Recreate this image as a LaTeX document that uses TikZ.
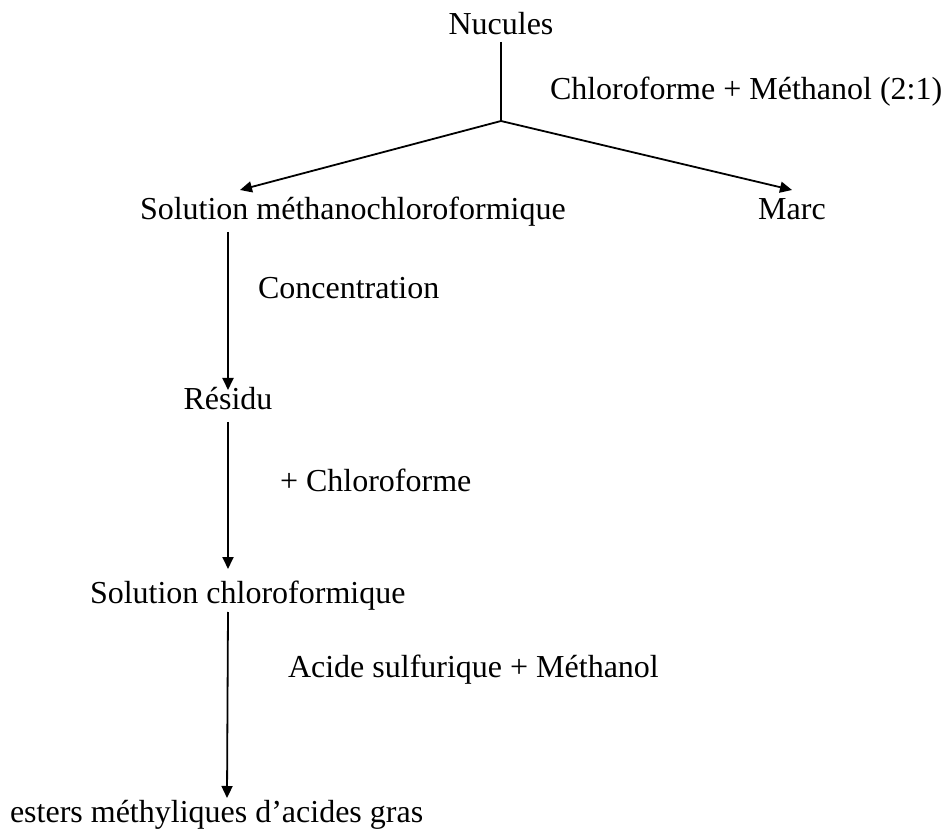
\documentclass[tikz,border=0pt]{standalone}
\usepackage{fontspec}
\setmainfont{Liberation Serif}
\usetikzlibrary{arrows.meta}
\begin{document}
\begin{tikzpicture}[x=1pt,y=-1pt,
  lbl/.style={inner sep=0pt,outer sep=0pt,font=\fontsize{32}{38}\selectfont},
  conn/.style={line width=1.8pt},
  arr/.style={conn,-{Triangle[length=12pt,width=11pt]}}]
\useasboundingbox[fill=white] (0,0) rectangle (946,834);
% nodes
\node[lbl,anchor=base] (nuc) at (501,35) {Nucules};
\node[lbl,anchor=base west] (cm) at (550,100) {Chloroforme + Méthanol (2:1)};
\node[lbl,anchor=base west] (smc) at (140,220) {Solution méthanochloroformique};
\node[lbl,anchor=base] (marc) at (792,220) {Marc};
\node[lbl,anchor=base west] (conc) at (258,299) {Concentration};
\node[lbl,anchor=base] (res) at (228,410) {Résidu};
\node[lbl,anchor=base west] (pc) at (280,492) {+ Chloroforme};
\node[lbl,anchor=base west] (sc) at (90,603) {Solution chloroformique};
\node[lbl,anchor=base west] (asm) at (288,677) {Acide sulfurique + Méthanol};
\node[lbl,anchor=base west] (est) at (10,822) {esters méthyliques d’acides gras};
% connector points
\coordinate (n0) at (501,42);
\coordinate (j) at (501,121);
\coordinate (tl) at (240,190);
\coordinate (tr) at (792,190);
\coordinate (v1a) at (228,232);
\coordinate (v1b) at (228,390);
\coordinate (v2a) at (228,422);
\coordinate (v2b) at (228,569);
\coordinate (v3a) at (228,612);
\coordinate (v3b) at (227,798);
% connectors
\draw[conn] (n0) -- (j);
\draw[arr] (j) -- (tl);
\draw[arr] (j) -- (tr);
\draw[arr] (v1a) -- (v1b);
\draw[arr] (v2a) -- (v2b);
\draw[arr] (v3a) -- (v3b);
\end{tikzpicture}
\end{document}
